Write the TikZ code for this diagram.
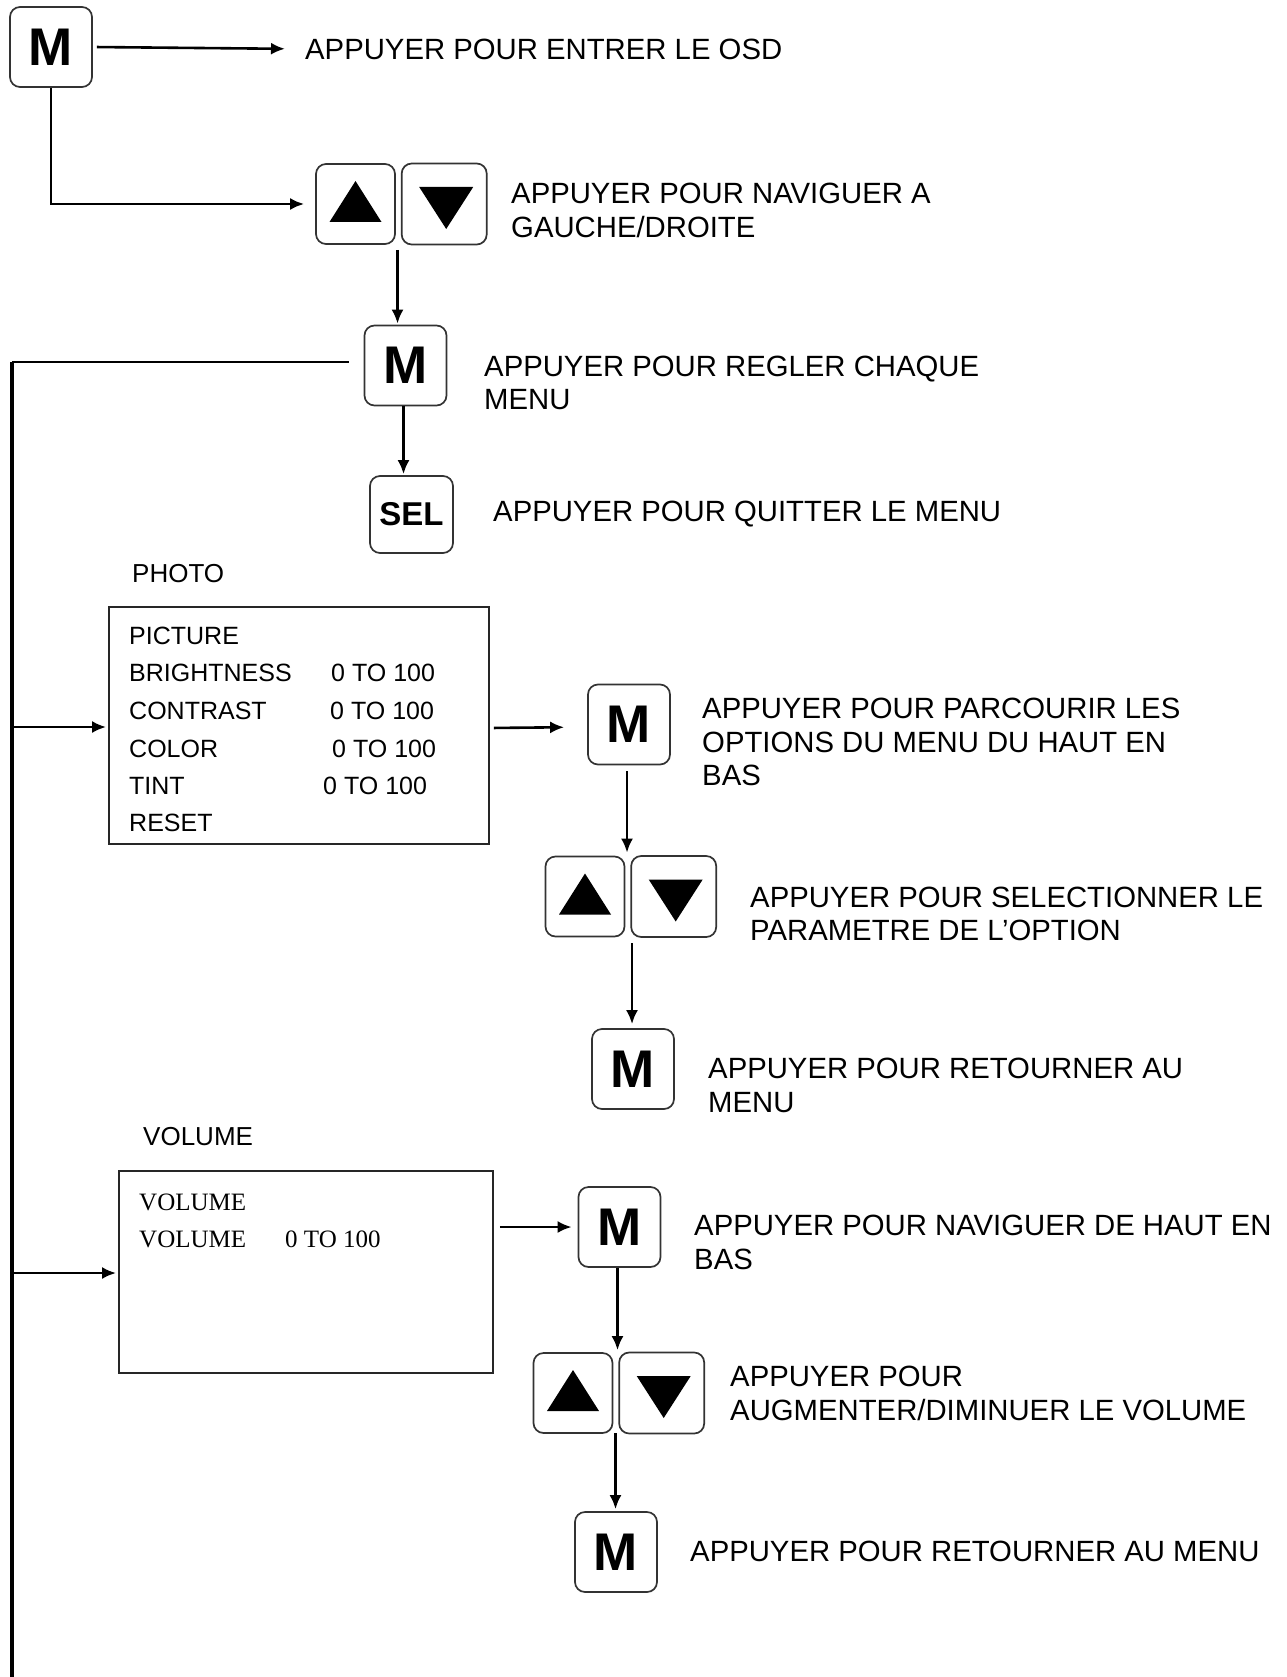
\documentclass[tikz,border=0pt]{standalone}
\usepackage{fontspec}
\setmainfont{Liberation Sans}
\newfontfamily\serifv{Liberation Serif}
\usetikzlibrary{arrows.meta}
\tikzset{
  btn/.style={draw=black!80, line width=1.7pt, rounded corners=10pt, inner sep=0pt,
    minimum width=82pt, minimum height=80pt, font=\bfseries\fontsize{53}{53}\selectfont},
  selbtn/.style={btn, minimum width=83pt, minimum height=77pt, font=\bfseries\fontsize{33}{33}\selectfont},
  udl/.style={draw=black!80, line width=1.7pt, rounded corners=10pt, inner sep=0pt,
    minimum width=79pt, minimum height=80pt},
  udr/.style={udl, minimum width=85pt, minimum height=81pt},
  conn/.style={line width=2.6pt},
  arr/.style={conn, -{Latex[length=14pt,width=12pt]}},
  bus/.style={line width=3.3pt},
  lbl/.style={anchor=west, align=left, inner sep=0pt, font=\fontsize{29.3}{33.5}\selectfont},
  capt/.style={anchor=west, inner sep=0pt, font=\fontsize{26}{30}\selectfont},
  menubox/.style={draw=black!85, line width=1.8pt, inner sep=0pt},
  mtxt/.style={anchor=west, inner sep=0pt, font=\fontsize{25}{30}\selectfont},
  vtxt/.style={anchor=west, inner sep=0pt, font=\serifv\fontsize{25}{30}\selectfont},
}
\newcommand\udpair[3]{%
  \node[udl] (#1l) at (#2,#3) {};
  \node[udr, anchor=west] (#1r) at ([xshift=5pt]#1l.east) {};
  \fill ([shift={(-26,18)}]#1l.center) -- ([shift={(26,18)}]#1l.center) -- ([shift={(0,-23)}]#1l.center) -- cycle;
  \fill ([shift={(-25,-17)}]#1r.center) -- ([shift={(29,-17)}]#1r.center) -- ([shift={(2,25)}]#1r.center) -- cycle;
}
\begin{document}
\begin{tikzpicture}[x=1pt,y=-1pt]
\useasboundingbox[fill=white] (0,0) rectangle (1286,1677);

% ---- top part
\node[btn] (m1) at (51,47) {M};
\node[lbl] (t1) at (305,49) {APPUYER POUR ENTRER LE OSD};
\udpair{ud1}{355.5}{204}
\node[lbl] (t2) at (511,210.5) {APPUYER POUR NAVIGUER A\\GAUCHE/DROITE};
\node[btn] (m2) at (405.5,365.5) {M};
\node[lbl] (t3) at (484,383) {APPUYER POUR REGLER CHAQUE\\MENU};
\node[selbtn] (sel) at (411.5,514.5) {SEL};
\node[lbl] (t4) at (493,514) {APPUYER POUR QUITTER LE MENU};

\draw[arr, shorten <=4pt, shorten >=20pt] (m1.east) -- (t1.west);
\draw[arr, shorten >=11pt] (m1.south) |- (ud1l.west);
\coordinate (ud1b) at (397.5,244);
\draw[arr, shorten <=6pt, shorten >=1pt] (ud1b) -- (ud1b |- m2.north);
\draw[arr, shorten >=1pt] ([xshift=-2pt]m2.south) -- ([xshift=-2pt]m2.south |- sel.north);

% ---- bus
\coordinate (bustop) at (12,362);
\coordinate (busend) at (12,1677);
\draw[bus] (busend) -- (bustop);
\draw[conn, shorten >=15pt] (bustop) -- (m2.west |- bustop);

% ---- PHOTO
\node[capt] (photo) at (132,574) {PHOTO};
\node[menubox, minimum width=380pt, minimum height=237pt] (pic) at (299,725.5) {};
\node[mtxt] (p1) at (129,636) {PICTURE};
\node[mtxt] (p2) at (129,673) {BRIGHTNESS};
\node[mtxt] (p2v) at (331,673) {0 TO 100};
\node[mtxt] (p3) at (129,711) {CONTRAST};
\node[mtxt] (p3v) at (330,711) {0 TO 100};
\node[mtxt] (p4) at (129,749) {COLOR};
\node[mtxt] (p4v) at (332,749) {0 TO 100};
\node[mtxt] (p5) at (129,786) {TINT};
\node[mtxt] (p5v) at (323,786) {0 TO 100};
\node[mtxt] (p6) at (129,823) {RESET};

\coordinate (bus1) at (12,727);
\draw[arr, shorten >=2pt] (bus1) -- (pic.west |- bus1);

\node[btn] (m3) at (629,724.5) {M};
\node[lbl] (t5) at (702,742) {APPUYER POUR PARCOURIR LES\\OPTIONS DU MENU DU HAUT EN\\BAS};
\udpair{ud2}{585}{896.5}
\node[lbl] (t6) at (750,914) {APPUYER POUR SELECTIONNER LE\\PARAMETRE DE L’OPTION};
\node[btn] (m4) at (633,1069) {M};
\node[lbl] (t7) at (708,1085.5) {APPUYER POUR RETOURNER AU\\MENU};

\draw[arr, shorten <=4pt, shorten >=23pt] ([yshift=-2.5pt]pic.east) -- ([yshift=-2.5pt]m3.west);
\draw[arr, shorten <=6pt, shorten >=3pt] ([xshift=-2pt]m3.south) -- ([xshift=-2pt]m3.south |- ud2l.north);
\coordinate (ud2b) at (628,937);
\draw[arr, shorten <=6pt, shorten >=4pt] ([xshift=4pt]ud2b) -- ([xshift=4pt]ud2b |- m4.north);

% ---- VOLUME
\node[capt] (volcap) at (143,1137) {VOLUME};
\node[menubox, minimum width=374pt, minimum height=202pt] (vol) at (306,1272) {};
\node[vtxt] (v1) at (139,1202) {VOLUME};
\node[vtxt] (v2) at (139,1239) {VOLUME};
\node[vtxt] (v2v) at (285,1239) {0 TO 100};

\coordinate (bus2) at (12,1273);
\draw[arr, shorten >=2pt] (bus2) -- (vol.west |- bus2);

\node[btn] (m5) at (619.5,1227) {M};
\node[lbl] (t8) at (694,1242.5) {APPUYER POUR NAVIGUER DE HAUT EN\\BAS};
\udpair{ud3}{573}{1393}
\node[lbl] (t9) at (730,1393.5) {APPUYER POUR\\AUGMENTER/DIMINUER LE VOLUME};
\node[btn] (m6) at (616,1552) {M};
\node[lbl] (t10) at (690,1551) {APPUYER POUR RETOURNER AU MENU};

\draw[arr, shorten <=6pt, shorten >=6pt] (vol.east |- m5.west) -- (m5.west);
\draw[arr, shorten >=2pt] ([xshift=-2pt]m5.south) -- ([xshift=-2pt]m5.south |- ud3l.north);
\coordinate (ud3b) at (615.5,1433);
\draw[arr, shorten >=2pt] (ud3b) -- (ud3b |- m6.north);
\end{tikzpicture}
\end{document}
